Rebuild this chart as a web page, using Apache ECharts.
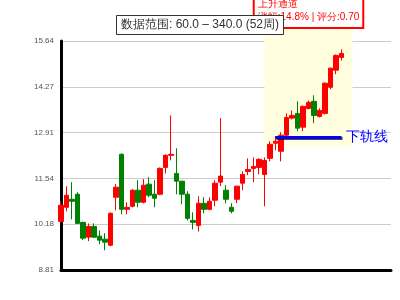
<!DOCTYPE html>
<html><head><meta charset="utf-8">
<script src="https://cdn.jsdelivr.net/npm/echarts@6/dist/echarts.min.js"></script>
<style>html,body{margin:0;padding:0;background:#fff}#c{width:400px;height:300px}</style>
</head><body><div id="c"></div>
<script>
// ---- data ----
const axisSlots = 61; // x axis spans 61 weekly slots, 52 of them filled
const categories = Array.from({length: axisSlots}, (_, i) => '第' + (i + 1) + '周');
const opens = [10.26,10.68,10.92,11.07,10.23,9.79,10.11,9.82,9.73,9.55,
  10.98,12.26,10.62,10.71,11.19,10.83,11.37,11.07,11.07,11.87,
  12.23,11.69,11.46,11.07,10.29,10.14,10.80,10.62,10.89,11.43,
  11.19,10.68,10.92,11.40,11.75,11.84,11.87,11.66,12.14,12.59,
  12.35,12.83,13.34,13.48,13.07,13.63,13.84,13.39,13.48,14.26,
  14.77,15.15];
const closes = [10.74,11.04,10.86,10.20,9.76,10.11,9.79,9.70,9.64,10.50,
  11.28,10.62,10.68,11.19,10.83,11.34,11.04,10.95,11.84,12.23,
  12.26,11.46,11.07,10.35,10.23,10.80,10.62,10.86,11.40,11.61,
  10.92,10.56,11.31,11.66,11.81,11.90,12.11,12.08,12.56,12.65,
  12.83,13.36,13.42,13.04,13.69,13.81,13.42,13.57,14.38,14.83,
  15.21,15.27];
const lows = [10.22,10.56,10.32,10.19,9.70,9.67,9.77,9.58,9.40,9.52,
  10.59,10.47,10.47,10.68,10.68,10.80,10.98,10.68,11.04,11.69,
  12.08,11.07,10.77,10.29,10.02,9.96,10.50,10.59,10.71,11.31,
  10.80,10.50,10.80,11.19,11.64,11.43,11.66,10.71,12.05,12.38,
  12.05,12.80,13.30,12.95,12.95,13.60,13.19,13.36,13.45,14.20,
  14.65,15.06];
const highs = [10.86,11.31,11.43,11.13,10.25,10.20,10.20,9.99,9.91,10.53,
  11.37,12.29,10.83,11.22,11.49,11.52,11.58,11.49,11.87,12.26,
  13.42,12.44,11.47,11.16,10.53,11.01,10.98,10.98,11.49,13.34,
  11.34,10.80,11.32,11.75,12.14,12.17,12.14,12.17,12.65,12.80,
  12.92,13.48,13.57,13.84,13.72,13.87,14.02,13.63,14.41,14.84,
  15.24,15.39];
const yMin = 8.81, yMax = 15.64, ySplits = 5;
const titleText = '数据范围: 60.0 – 340.0 (52周)';
const channel = {name: '上升通道', info: '涨幅:14.8% | 评分:0.70', startIdx: 37, endIdx: 53, low: 12.49, high: 16.06};
const lowerRail = {name: '下轨线', startIdx: 39, endIdx: 51, value: 12.78};

const kData = opens.map((o, i) => [o, closes[i], lows[i], highs[i]]);

const chart = echarts.init(document.getElementById('c'), null, {renderer: 'canvas'});
const option = {
  animation: false,
  backgroundColor: '#fff',
  title: {
    text: titleText, left: 'center', top: 15,
    backgroundColor: '#fff', borderColor: '#333', borderWidth: 1,
    padding: [4, 5],
    textStyle: {fontSize: 12, fontWeight: 'normal', color: '#333'}
  },
  grid: {left: 61, right: 9, top: 41, bottom: 30},
  xAxis: {
    type: 'category', data: categories, boundaryGap: false,
    axisLine: {lineStyle: {color: '#000', width: 3}},
    axisTick: {show: false}, axisLabel: {show: false}, splitLine: {show: false}
  },
  yAxis: {
    type: 'value', min: yMin, max: yMax, interval: (yMax - yMin) / ySplits, scale: true,
    axisLine: {show: true, lineStyle: {color: '#000', width: 3}},
    axisTick: {show: false},
    axisLabel: {fontSize: 8, color: '#555', margin: 7, formatter: v => v.toFixed(2)},
    splitLine: {lineStyle: {color: '#ccc', width: 1}}
  },
  series: [{
    id: 'k', type: 'candlestick', data: kData, barWidth: 5, clip: false,
    itemStyle: {color: '#ff0000', color0: '#008000', borderColor: '#ff0000', borderColor0: '#008000', borderWidth: 1},
    markLine: {
      symbol: 'none', silent: true,
      lineStyle: {color: '#0000ff', width: 3, type: 'solid', shadowColor: 'rgba(0,0,0,0.7)', shadowOffsetX: 1, shadowOffsetY: 1, shadowBlur: 0},
      label: {show: true, position: 'end', formatter: lowerRail.name, color: '#0000ff', fontSize: 14, distance: 4},
      data: [[{coord: [lowerRail.startIdx, lowerRail.value]}, {coord: [lowerRail.endIdx, lowerRail.value]}]]
    }
  }]
};
chart.setOption(option);
const p1 = chart.convertToPixel({gridIndex: 0}, [channel.startIdx, channel.high]);
const p2 = chart.convertToPixel({gridIndex: 0}, [channel.endIdx, channel.low]);
chart.setOption({series: [{id: 'k', markArea: {
  silent: true,
  itemStyle: {color: '#ffffe0', opacity: 1},
  label: {
    show: true, position: 'top', distance: 0,
    formatter: '{a|' + channel.name + '}\n{a|' + channel.info + '}',
    backgroundColor: '#fff', borderColor: '#ff0000', borderWidth: 2, padding: [3, 3],
    rich: {a: {color: '#ff0000', fontSize: 10, lineHeight: 13, align: 'left'}}
  },
  data: [[{x: p1[0], y: p1[1]}, {x: p2[0], y: p2[1]}]]
}}]});
</script></body></html>
